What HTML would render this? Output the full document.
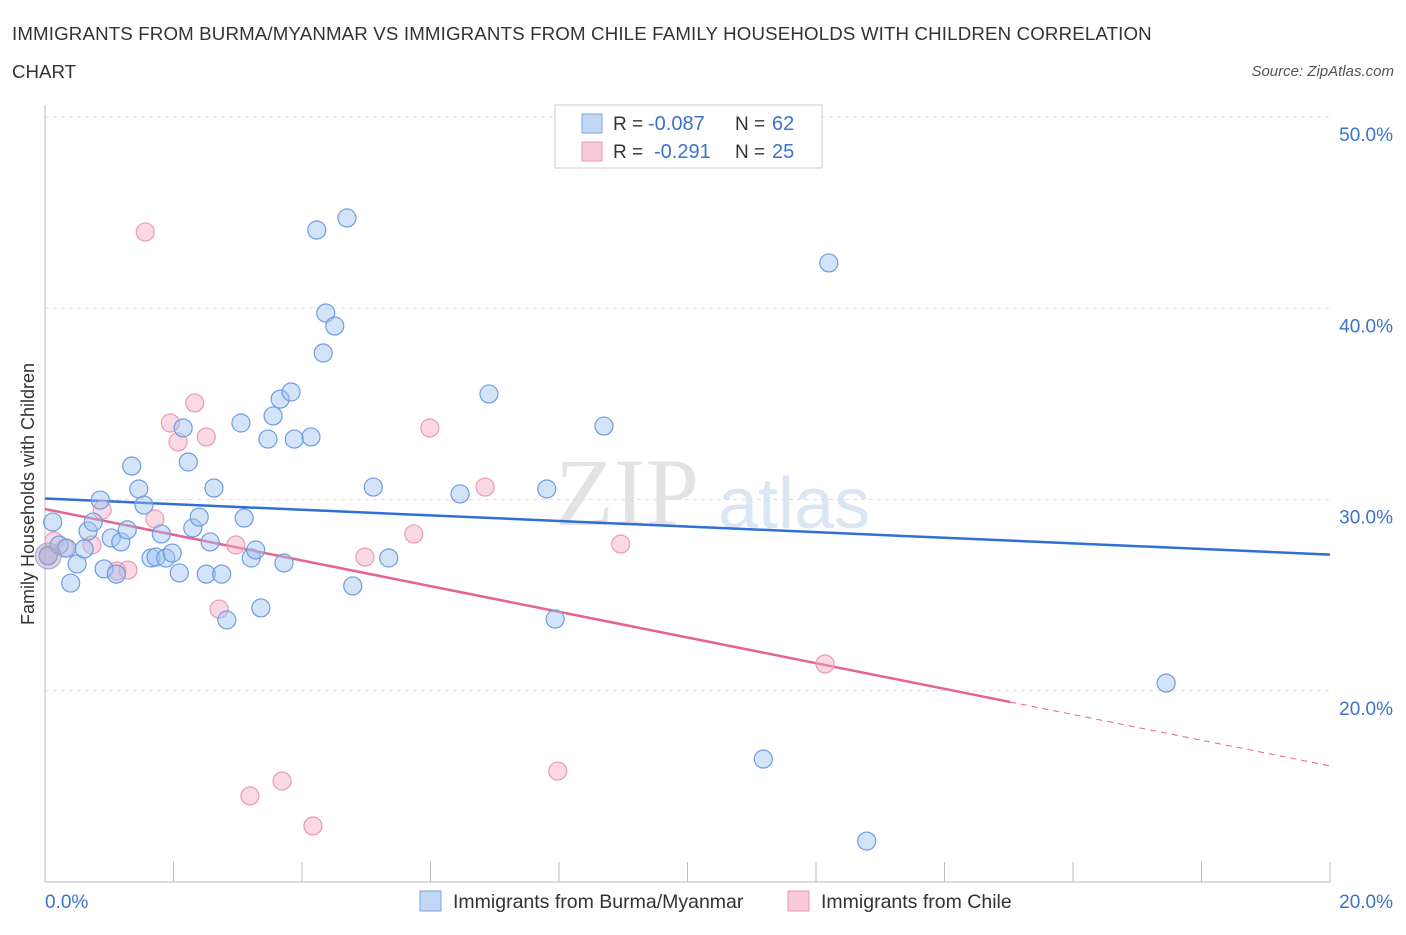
<!DOCTYPE html>
<html><head><meta charset="utf-8"><style>
body{margin:0;background:#fff;font-family:"Liberation Sans",sans-serif;}
</style></head><body>
<svg id="c" width="1406" height="930" xmlns="http://www.w3.org/2000/svg" style="font-family:'Liberation Sans',sans-serif">
<text x="12" y="40" font-size="18.7" letter-spacing="0.15" fill="#333">IMMIGRANTS FROM BURMA/MYANMAR VS IMMIGRANTS FROM CHILE FAMILY HOUSEHOLDS WITH CHILDREN CORRELATION</text>
<text x="12" y="78" font-size="18.7" fill="#333">CHART</text>
<text x="1394" y="76" font-size="15" fill="#555" font-style="italic" text-anchor="end">Source: ZipAtlas.com</text>
<text x="555" y="525" font-size="96" fill="#e3e3e3" font-family="Liberation Serif">ZIP</text>
<text x="718" y="528" font-size="72" fill="#dbe6f5">atlas</text>
<g id="grid"></g><g id="axes"></g><g id="trend"></g><g id="pts"></g>
<text transform="translate(34,494) rotate(-90)" font-size="18" fill="#333" text-anchor="middle">Family Households with Children</text>
<text x="45" y="908" font-size="19" fill="#3b73c8">0.0%</text>
<text x="1393" y="908" font-size="19" fill="#3b73c8" text-anchor="end">20.0%</text>
<g>
<rect x="555" y="105" width="267" height="63" fill="#fff" stroke="#ccc"/>
<rect x="582" y="114" width="20" height="19" fill="#c2d7f5" stroke="#7ea6e0"/>
<rect x="582" y="142" width="20" height="19" fill="#f9cbd8" stroke="#eb9ab2"/>
<text x="613" y="130" font-size="19" fill="#333">R =</text>
<text x="648" y="130" font-size="20" fill="#3b73c8">-0.087</text>
<text x="735" y="130" font-size="19" fill="#333">N =</text>
<text x="772" y="130" font-size="20" fill="#3b73c8">62</text>
<text x="613" y="158" font-size="19" fill="#333">R =</text>
<text x="654" y="158" font-size="20" fill="#3b73c8">-0.291</text>
<text x="735" y="158" font-size="19" fill="#333">N =</text>
<text x="772" y="158" font-size="20" fill="#3b73c8">25</text>
</g>
<g>
<rect x="420" y="891" width="21" height="20" fill="#c2d7f5" stroke="#7ea6e0"/>
<text x="453" y="908" font-size="19.5" fill="#333">Immigrants from Burma/Myanmar</text>
<rect x="788" y="891" width="21" height="20" fill="#f9cbd8" stroke="#eb9ab2"/>
<text x="821" y="908" font-size="19.5" fill="#333">Immigrants from Chile</text>
</g>
</svg>
<script>
const burmaX=[0.12,0.05,0.22,0.34,0.50,0.40,0.61,0.67,0.75,0.86,0.92,1.03,1.11,1.18,1.28,1.35,1.46,1.54,1.65,1.73,1.81,1.88,1.98,2.09,2.15,2.23,2.30,2.40,2.51,2.57,2.63,2.75,2.83,3.05,3.10,3.21,3.28,3.36,3.47,3.55,3.66,3.72,3.83,3.88,4.14,4.23,4.37,4.51,4.33,4.70,4.79,5.11,5.35,6.46,6.91,7.81,7.94,8.70,12.20,11.18,12.79,17.45];
const burmaY=[28.82,27.05,27.62,27.46,26.63,25.63,27.41,28.35,28.82,29.97,26.37,27.99,26.10,27.78,28.41,31.75,30.55,29.71,26.94,26.99,28.20,26.94,27.20,26.16,33.74,31.96,28.51,29.08,26.10,27.78,30.60,26.10,23.70,34.00,29.03,26.94,27.36,24.33,33.16,34.37,35.25,26.68,35.62,33.16,33.27,44.09,39.75,39.07,37.66,44.72,25.48,30.65,26.94,30.29,35.52,30.55,23.75,33.84,42.37,16.43,12.14,20.40];
const chileX=[1.56,2.33,1.95,2.07,2.51,0.89,1.71,2.71,2.97,0.73,0.31,0.14,1.12,1.29,3.19,3.69,4.17,4.98,5.74,5.99,6.85,7.98,8.96,12.14,0.05];
const chileY=[43.99,35.05,34.00,33.01,33.27,29.45,28.98,24.27,27.62,27.62,27.46,27.83,26.26,26.31,14.50,15.28,12.93,26.99,28.20,33.74,30.65,15.80,27.67,21.40,27.10];
const yTicks=[20,30,40,50];
const yTickLabels=["20.0%","30.0%","40.0%","50.0%"];
const xTicks=[0,2,4,6,8,10,12,14,16,18,20];
const burmaTrend=[30.05,27.12];
const chileTrend=[29.5,16.07];
const chileSolidEnd=15.02;
const NS="http://www.w3.org/2000/svg";
const sx=v=>45+v/20*1285, sy=v=>882-(v-10)/40*765;
function mk(t,a,p){const e=document.createElementNS(NS,t);for(const k in a)e.setAttribute(k,a[k]);document.getElementById(p).appendChild(e);return e;}
yTicks.forEach((t,i)=>{
 const l=mk('line',{x1:45,x2:1330,y1:sy(t),y2:sy(t),stroke:'#ddd','stroke-dasharray':'4,4'},'grid');
 
 
 const tx=mk('text',{x:1393,y:sy(t)+24,'font-size':19,fill:'#3b73c8','text-anchor':'end'},'grid');
 tx.textContent=yTickLabels[i];
 
 
});
const ax=mk('line',{x1:45,x2:45,y1:105,y2:882,stroke:'#bbb'},'axes');


const bx=mk('line',{x1:45,x2:1330,y1:882,y2:882,stroke:'#bbb'},'axes');


xTicks.forEach(t=>{
 const l=mk('line',{x1:sx(t),x2:sx(t),y1:862,y2:882,stroke:'#bbb'},'axes');
 
 
});
function trend(a,b,end,col,name){
 const f=x=>a+(b-a)*x/20;
 const l=mk('line',{x1:sx(0),y1:sy(f(0)),x2:sx(end),y2:sy(f(end)),stroke:col,'stroke-width':2.5},'trend');
 
 
 if(end<20){const d=mk('line',{x1:sx(end),y1:sy(f(end)),x2:sx(20),y2:sy(f(20)),stroke:col,'stroke-width':1,'stroke-dasharray':'6,5'},'trend');
 
 }
}
function pts(X,Y,fill,stroke,name){
 X.forEach((x,i)=>{const c=mk('circle',{cx:sx(x),cy:sy(Y[i]),r:9,fill:fill,stroke:stroke,'stroke-width':1.2},'pts');
 
 });
}
pts(chileX,chileY,'rgba(245,170,195,0.45)','#eb9ab2','chile-point');
pts(burmaX,burmaY,'rgba(160,195,240,0.45)','#6f9ce0','burma-point');
const big=mk('circle',{cx:sx(0.05),cy:sy(27.05),r:13,fill:'rgba(180,170,200,0.5)',stroke:'#a9a3d0'},'pts');


trend(burmaTrend[0],burmaTrend[1],20,'#2f6fd6','burma-trendline');
trend(chileTrend[0],chileTrend[1],chileSolidEnd,'#e5638f','chile-trendline');
</script>
</body></html>
